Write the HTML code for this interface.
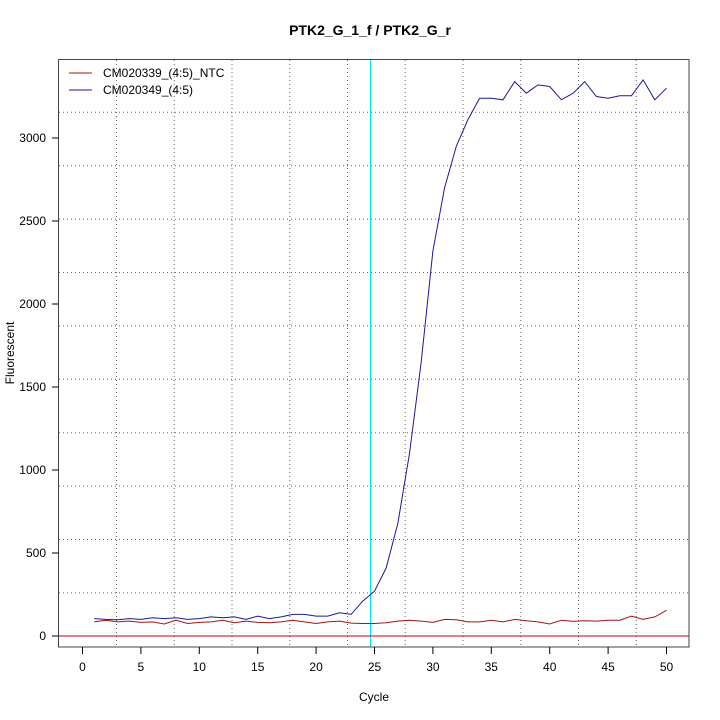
<!DOCTYPE html>
<html><head><style>body{margin:0;background:#fff}svg{display:block}text{font-family:"Liberation Sans",sans-serif;font-size:12px}</style></head>
<body>
<svg id="s" width="720" height="720" xmlns="http://www.w3.org/2000/svg">
<rect width="720" height="720" fill="#fff"/>
<text x="370" y="35" text-anchor="middle" style="font-weight:bold;font-size:14px">PTK2_G_1_f / PTK2_G_r</text>
<g id="grid" stroke="#666" stroke-dasharray="1,3" stroke-width="1"></g>
<line x1="370.5" y1="59" x2="370.5" y2="647" stroke="#00e5ee" stroke-width="1"/>
<line x1="59" y1="636" x2="689" y2="636" stroke="#cc0000" stroke-width="1"/>
<polyline id="red" fill="none" stroke="#aa1111" stroke-width="1"/>
<polyline id="blue" fill="none" stroke="#1a1a99" stroke-width="1"/>
<rect x="58.5" y="59.5" width="630.5" height="587.5" fill="none" stroke="#444" stroke-width="1"/>
<g id="ax" stroke="#000" stroke-width="1"></g>
<g id="lab"></g>
<line x1="69" y1="73" x2="92" y2="73" stroke="#aa1111"/>
<line x1="69" y1="90" x2="92" y2="90" stroke="#1a1a99"/>
<text x="103" y="77">CM020339_(4:5)_NTC</text>
<text x="103" y="94">CM020349_(4:5)</text>
<text x="374" y="701" text-anchor="middle">Cycle</text>
<text transform="translate(14,353) rotate(-90)" text-anchor="middle">Fluorescent</text>
</svg>
<script>
var ns="http://www.w3.org/2000/svg";
function el(p,t,a,txt){var e=document.createElementNS(ns,t);for(var k in a)e.setAttribute(k,a[k]);if(txt!=null)e.textContent=txt;document.getElementById(p).appendChild(e);}
for(var i=0;i<10;i++){var x=116.5+57.75*i;el("grid","line",{x1:x,y1:60,x2:x,y2:646});}
for(var i=0;i<10;i++){var y=112.3+53.4*i;el("grid","line",{x1:59,y1:y,x2:688,y2:y});}
var X=function(c){return 82.5+11.68*c},Y=function(v){return 636-v*0.166};
for(var c=0;c<=50;c+=5){el("ax","line",{x1:X(c),y1:647,x2:X(c),y2:654});el("lab","text",{x:X(c),y:671,"text-anchor":"middle"},c);}
for(var v=0;v<=3000;v+=500){el("ax","line",{x1:52,y1:Y(v),x2:58.5,y2:Y(v)});el("lab","text",{x:46,y:Y(v)+4,"text-anchor":"end"},v);}
var b=[105,100,98,105,100,110,105,110,100,105,115,110,115,100,120,105,115,130,130,120,120,140,130,210,270,410,680,1100,1650,2320,2700,2950,3110,3240,3240,3230,3340,3270,3320,3310,3230,3270,3340,3250,3240,3255,3255,3350,3230,3300];
var r=[85,95,85,90,82,85,72,95,75,82,85,95,80,90,82,80,85,95,85,75,85,90,78,75,75,80,90,95,90,82,100,98,85,85,95,85,100,92,85,72,95,88,92,90,95,95,120,100,115,155];
function pts(a){return a.map(function(v,i){return X(i+1).toFixed(1)+","+Y(v).toFixed(1)}).join(" ")}
document.getElementById("blue").setAttribute("points",pts(b));
document.getElementById("red").setAttribute("points",pts(r));
</script>
</body></html>
